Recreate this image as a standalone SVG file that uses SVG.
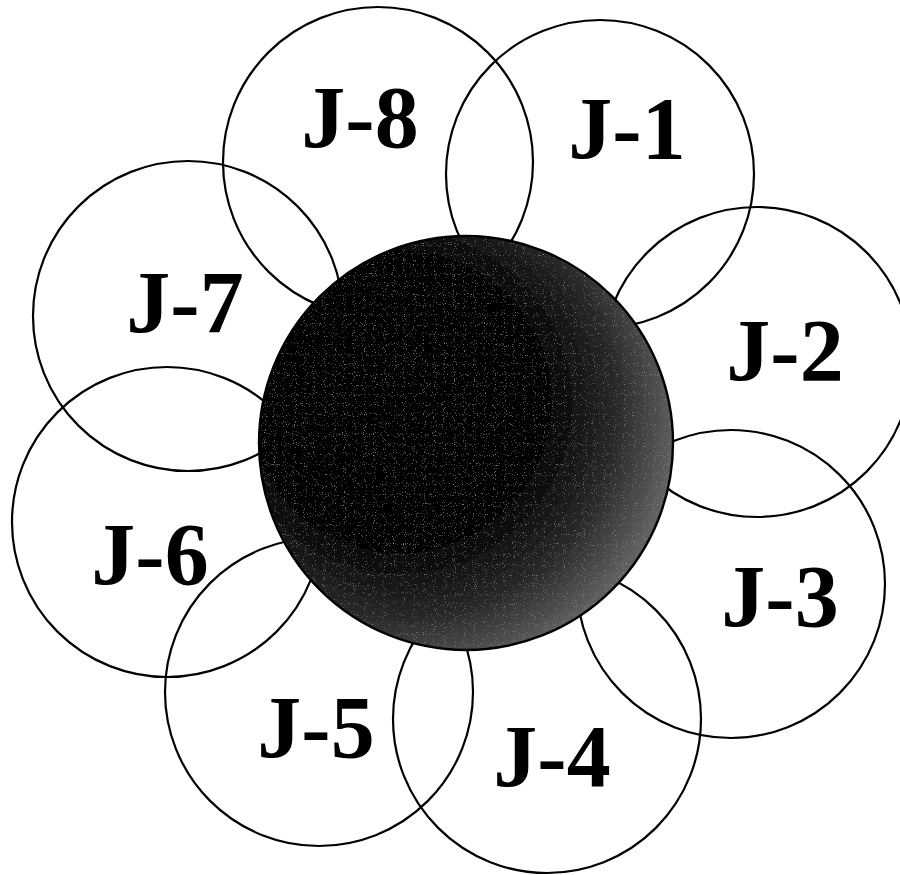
<svg xmlns="http://www.w3.org/2000/svg" width="900" height="875" viewBox="0 0 900 875">
  <style>
    .ring { fill: none; stroke: #000; stroke-width: 2.2; }
    .lbl { font-family: "Liberation Serif", "Times New Roman", serif; font-weight: bold; font-size: 88px; fill: #000; text-anchor: middle; }
  </style>
  <defs>
    <radialGradient id="core" cx="0.36" cy="0.42" r="0.72" fx="0.32" fy="0.38">
      <stop offset="0" stop-color="#000"/>
      <stop offset="0.5" stop-color="#050505"/>
      <stop offset="0.72" stop-color="#2a2a2a"/>
      <stop offset="0.9" stop-color="#5e5e5e"/>
      <stop offset="1" stop-color="#707070"/>
    </radialGradient>
    <filter id="speck" x="0" y="0" width="1" height="1">
      <feTurbulence type="fractalNoise" baseFrequency="0.9" numOctaves="1" seed="3" result="n"/>
      <feColorMatrix in="n" type="matrix" values="0 0 0 0 1  0 0 0 0 1  0 0 0 0 1  0 0 0 1.4 -0.9" result="w"/>
      <feComposite in="w" in2="SourceGraphic" operator="in" result="ws"/>
      <feMerge><feMergeNode in="SourceGraphic"/><feMergeNode in="ws"/></feMerge>
    </filter>
  </defs>
  <rect width="900" height="875" fill="#fff"/>
  <g id="J-1"><circle class="ring" cx="600" cy="174" r="154"/><text class="lbl" x="627" y="158">J-1</text></g>
  <g id="J-2"><circle class="ring" cx="757" cy="362" r="155"/><text class="lbl" x="785" y="380">J-2</text></g>
  <g id="J-3"><circle class="ring" cx="731" cy="584" r="154"/><text class="lbl" x="780" y="626">J-3</text></g>
  <g id="J-4"><circle class="ring" cx="547" cy="719" r="154"/><text class="lbl" x="552" y="786">J-4</text></g>
  <g id="J-5"><circle class="ring" cx="319" cy="692" r="154"/><text class="lbl" x="316" y="757">J-5</text></g>
  <g id="J-6"><circle class="ring" cx="167" cy="522" r="155"/><text class="lbl" x="150" y="584">J-6</text></g>
  <g id="J-7"><circle class="ring" cx="188" cy="316" r="155"/><text class="lbl" x="185" y="332">J-7</text></g>
  <g id="J-8"><circle class="ring" cx="378" cy="162" r="155"/><text class="lbl" x="360" y="147">J-8</text></g>
  <g id="core-node">
    <circle cx="466" cy="443" r="207" fill="url(#core)" filter="url(#speck)"/>
    <circle cx="466" cy="443" r="207" fill="none" stroke="#000" stroke-width="2.4"/>
  </g>
</svg>
